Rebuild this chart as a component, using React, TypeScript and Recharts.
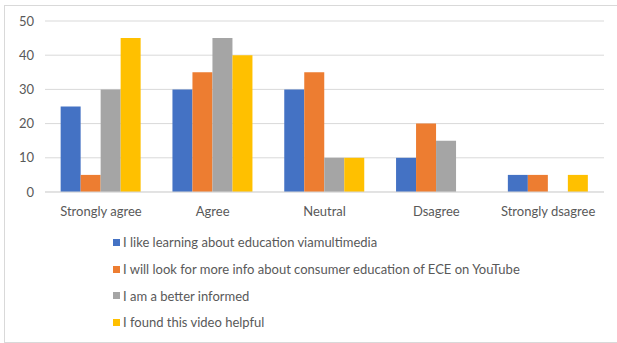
import { Bar, BarChart, CartesianGrid, XAxis, YAxis } from "recharts";

const categories = ["Strongly agree", "Agree", "Neutral", "Dsagree", "Strongly dsagree"];
const likeLearning = [25, 30, 30, 10, 5];
const lookForInfo = [5, 35, 35, 20, 5];
const betterInformed = [30, 45, 10, 15, 0];
const videoHelpful = [45, 40, 10, 0, 5];
const yTicks = [0, 10, 20, 30, 40, 50];

const series = [
  { key: "like", name: "I like learning about education viamultimedia", values: likeLearning, color: "#4472C4" },
  { key: "look", name: "I will look for more info about consumer education of ECE on YouTube", values: lookForInfo, color: "#ED7D31" },
  { key: "better", name: "I am a better informed", values: betterInformed, color: "#A5A5A5" },
  { key: "helpful", name: "I found this video helpful", values: videoHelpful, color: "#FFC000" },
];

const data = categories.map((name, i) => {
  const row: Record<string, string | number> = { name };
  series.forEach((s) => {
    row[s.key] = s.values[i];
  });
  return row;
});

const font = "Lato, 'Liberation Sans', sans-serif";
const textColor = "#595959";
const gridColor = "#d9d9d9";

export default function App() {
  return (
    <div style={{ position: "absolute", left: 0, top: 0, width: 617, height: 343, background: "#fff", fontFamily: font }}>
      <div style={{ position: "absolute", left: 4, top: 5, width: 620, height: 336, border: `1px solid ${gridColor}` }} />
      <BarChart
        width={617}
        height={343}
        data={data}
        margin={{ top: 21, right: 13, bottom: 121, left: 0 }}
        barCategoryGap="14%"
        barGap={0}
      >
        <CartesianGrid vertical={false} stroke={gridColor} />
        <XAxis
          dataKey="name"
          height={30}
          axisLine={{ stroke: gridColor }}
          tickLine={false}
          tickMargin={9}
          tick={{ fontSize: 13, fill: textColor, fontFamily: font }}
          interval={0}
        />
        <YAxis
          width={45}
          domain={[0, 50]}
          ticks={yTicks}
          axisLine={false}
          tickLine={false}
          tickMargin={5}
          tick={{ fontSize: 13, fill: textColor, fontFamily: font }}
        />
        {series.map((s) => (
          <Bar key={s.key} dataKey={s.key} name={s.name} fill={s.color} isAnimationActive={false} />
        ))}
      </BarChart>
      <div style={{ position: "absolute", left: 113, top: 229 }}>
        {series.map((s) => (
          <div key={s.key} style={{ display: "flex", alignItems: "center", height: 26.7, fontSize: 13, color: textColor }}>
            <span style={{ width: 7, height: 7, background: s.color, marginRight: 3, display: "inline-block" }} />
            <span>{s.name}</span>
          </div>
        ))}
      </div>
    </div>
  );
}
